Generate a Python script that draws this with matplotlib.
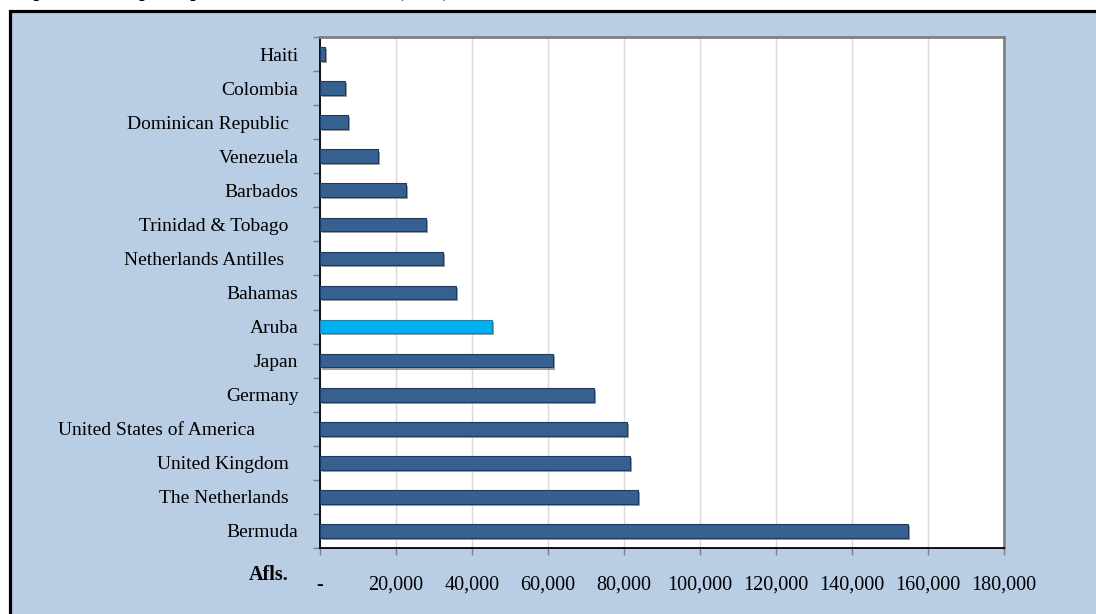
import matplotlib
matplotlib.use("Agg")
import matplotlib.pyplot as plt
from matplotlib.patches import Rectangle
import matplotlib.patheffects as pe
from matplotlib.ticker import FixedLocator

countries = ["Haiti", "Colombia", "Dominican Republic  ", "Venezuela", "Barbados",
             "Trinidad & Tobago  ", "Netherlands Antilles   ", "Bahamas", "Aruba",
             "Japan", "Germany", "United States of America         ",
             "United Kingdom  ", "The Netherlands  ", "Bermuda"]
gdp = [1300, 6600, 7400, 15300, 22600, 27900, 32400, 35800, 45200,
       61300, 72100, 80800, 81600, 83700, 154700]
highlight = "Aruba"
xticks = [0, 20000, 40000, 60000, 80000, 100000, 120000, 140000, 160000, 180000]
xticklabels = ["-", "20,000", "40,000", "60,000", "80,000", "100,000",
               "120,000", "140,000", "160,000", "180,000"]
unit_label = "Afls."
title = "Graph 1.1  GDP per capita in various countries (2007)"

plt.rcParams['font.family'] = ['Liberation Serif', 'DejaVu Serif']

W, H = 1096, 614
fig = plt.figure(figsize=(W / 100, H / 100), dpi=100)
fig.patch.set_facecolor("white")

# panel background
panel = Rectangle((10 / W, -0.05), 1.1, (H - 11) / H + 0.05, transform=fig.transFigure,
                  facecolor="#B9CDE5", edgecolor="black", linewidth=2.3, zorder=-5)
fig.patches.append(panel)

fig.text(0.0, 1.0 + 3 / H, title, fontsize=14, fontweight="bold", ha="left", va="baseline")

ax = fig.add_axes([320 / W, 1 - 548 / H, (1004 - 320) / W, (548 - 37) / H])
ax.set_zorder(2)
ax.set_facecolor("white")

pos = list(range(len(countries)))
colors = ["#00B0F0" if c.strip() == highlight else "#35608F" for c in countries]
edges = ["#1E7FA8" if c.strip() == highlight else "#1F3A5E" for c in countries]
bars = ax.barh(pos, gdp, height=0.40, color=colors, edgecolor=edges, linewidth=0.8, zorder=3)
for b in bars:
    b.set_path_effects([pe.SimplePatchShadow(offset=(1.5, -1.5), shadow_rgbFace="#888888", alpha=0.8),
                        pe.Normal()])

ax.set_ylim(len(countries) - 0.5, -0.5)
ax.set_xlim(0, 180000)
ax.set_yticks(pos)
ax.set_yticklabels(countries, fontsize=14)
ax.yaxis.set_minor_locator(FixedLocator([p + 0.5 for p in range(-1, len(countries))]))
ax.tick_params(axis="y", which="major", length=0, pad=15.5)
ax.tick_params(axis="y", which="minor", length=5, color="#808080", width=1)

ax.set_xticks(xticks)
ax.set_xticklabels(xticklabels, fontsize=14.5)
ax.tick_params(axis="x", length=5, color="#808080", width=1, pad=15)
ax.xaxis.grid(True, color="#D9D9D9", linewidth=1, zorder=0)
ax.set_axisbelow(True)

for s in ["top", "right"]:
    ax.spines[s].set_color("#808080")
    ax.spines[s].set_linewidth(2)
for s in ["left", "bottom"]:
    ax.spines[s].set_color("black")
    ax.spines[s].set_linewidth(1.3)

fig.text(269 / W, 1 - 575 / H, unit_label, fontsize=14.5, fontweight="bold",
         ha="center", va="center", zorder=3)

fig.savefig("out.png", dpi=100)
